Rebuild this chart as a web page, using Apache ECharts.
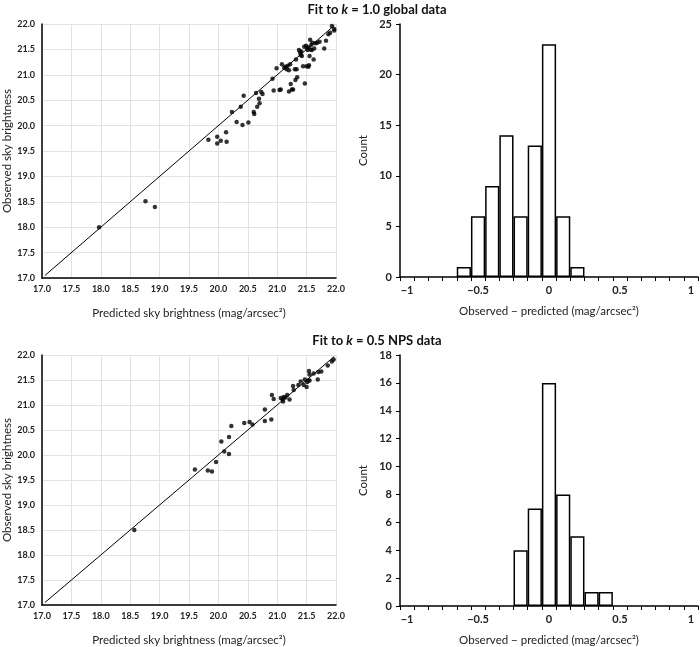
<!DOCTYPE html>
<html><head><meta charset="utf-8">
<script src="https://cdn.jsdelivr.net/npm/echarts@6/dist/echarts.min.js"></script>
<style>html,body{margin:0;padding:0;background:#fff}#c{width:700px;height:647px}</style>
</head><body><div id="c"></div>
<script>
// ---- data ----
const globalPred = [17.97,18.76,18.92,19.83,19.98,19.98,20.04,20.13,20.14,20.23,20.31,20.41,20.38,20.43,20.51,20.60,20.61,20.64,20.66,20.69,20.70,20.73,20.75,20.92,20.94,20.99,21.04,21.06,21.08,21.14,21.16,21.18,21.20,21.22,21.20,21.23,21.25,21.27,21.30,21.32,21.33,21.31,21.34,21.37,21.40,21.41,21.42,21.44,21.47,21.46,21.49,21.51,21.50,21.53,21.54,21.52,21.55,21.56,21.58,21.59,21.62,21.63,21.65,21.68,21.72,21.80,21.83,21.87,21.90,21.93,21.97,21.97,21.60,21.53,21.39,21.12,21.57];
const globalObs  = [18.00,18.51,18.40,19.72,19.78,19.65,19.70,19.87,19.68,20.27,20.07,20.01,20.37,20.59,20.06,20.27,20.23,20.64,20.37,20.53,20.44,20.66,20.62,20.92,20.69,21.13,20.70,20.71,21.21,21.16,21.11,21.18,21.09,21.21,20.67,20.82,20.71,20.71,21.11,21.30,21.11,20.90,20.95,21.49,21.39,21.46,21.37,21.17,20.83,21.55,21.57,21.52,21.17,21.16,21.19,21.49,21.37,21.69,21.59,21.49,21.30,21.52,21.62,21.63,21.65,21.52,21.67,21.80,21.83,21.96,21.90,21.87,21.63,21.54,21.44,21.14,21.50];
const npsPred = [18.57,19.60,19.82,19.89,19.96,20.05,20.10,20.18,20.18,20.22,20.44,20.53,20.58,20.79,20.79,20.90,20.91,20.94,21.06,21.09,21.11,21.10,21.14,21.17,21.21,21.27,21.28,21.36,21.40,21.45,21.47,21.51,21.50,21.53,21.55,21.54,21.55,21.62,21.69,21.70,21.75,21.86,21.93,21.96];
const npsObs  = [18.50,19.71,19.69,19.67,19.86,20.27,20.07,20.02,20.36,20.58,20.64,20.66,20.61,20.91,20.68,20.71,21.20,21.12,21.14,21.11,21.16,21.07,21.15,21.20,21.11,21.38,21.30,21.40,21.47,21.40,21.51,21.46,21.36,21.49,21.49,21.68,21.61,21.63,21.51,21.66,21.67,21.79,21.87,21.91];
const oneToOne = [17.05, 21.97];
const binCenters = ['-1','-0.9','-0.8','-0.7','-0.6','-0.5','-0.4','-0.3','-0.2','-0.1','0','0.1','0.2','0.3','0.4','0.5','0.6','0.7','0.8','0.9','1'];
const globalCounts = [null,null,null,null,1,6,9,14,6,13,23,6,1,null,null,null,null,null,null,null,null];
const npsCounts    = [null,null,null,null,null,null,null,null,4,7,16,8,5,1,1,null,null,null,null,null,null];
const scatterTicks = {min:17, max:22, interval:0.5};
const globalCountAxis = {min:0, max:25, interval:5};
const npsCountAxis = {min:0, max:18, interval:2};
const titles = ['Fit to {k|k} = 1.0 global data', 'Fit to {k|k} = 0.5 NPS data'];

// ---- chart ----
const FONT = 'Lato';
const chart = echarts.init(document.getElementById('c'));
const zip = (a,b) => a.map((v,i)=>[v,b[i]]);
const grids = [
  {left:38, top:24, width:298, height:254},
  {left:400, top:24, width:298, height:253},
  {left:38, top:355, width:298, height:254},
  {left:400, top:355, width:298, height:254}
];
const nameStyle = {fontFamily:FONT, fontSize:11.5, color:'#222'};
function scatterX(gi){ return {type:'value', gridIndex:gi, min:scatterTicks.min, max:scatterTicks.max, interval:scatterTicks.interval,
  name:'Predicted sky brightness (mag/arcsec²)', nameLocation:'middle', nameGap:29, nameTextStyle:nameStyle,
  axisLine:{onZero:false, lineStyle:{color:'#000', width:1.5}}, axisTick:{show:false},
  axisLabel:{fontFamily:FONT, fontSize:9, fontWeight:'bold', color:'#222', margin:7, formatter:v=>v.toFixed(1)},
  splitLine:{show:true, lineStyle:{color:'#e2e2e2', width:1}}};}
function scatterY(gi){ return {type:'value', gridIndex:gi, min:scatterTicks.min, max:scatterTicks.max, interval:scatterTicks.interval,
  name:'Observed sky brightness', nameLocation:'middle', nameGap:29, nameTextStyle:nameStyle,
  axisLine:{show:true, onZero:false, lineStyle:{color:'#000', width:1.5}}, axisTick:{show:false},
  axisLabel:{fontFamily:FONT, fontSize:9, fontWeight:'bold', color:'#222', margin:7, formatter:v=>v.toFixed(1)},
  splitLine:{show:true, lineStyle:{color:'#e2e2e2', width:1}}};}
function histX(gi){ return {type:'category', gridIndex:gi, data:binCenters, boundaryGap:true,
  name:'Observed − predicted (mag/arcsec²)', nameLocation:'middle', nameGap:28, nameTextStyle:nameStyle,
  axisLine:{lineStyle:{color:'#000', width:1.5}},
  axisTick:{show:true, interval:0, length:4, lineStyle:{color:'#000', width:1}},
  axisLabel:{interval:4, fontFamily:FONT, fontSize:11, fontWeight:'bold', color:'#222', margin:8,
    formatter:v=>v.replace('-', '−')}};}
function histY(gi, ax){ return {type:'value', gridIndex:gi, min:ax.min, max:ax.max, interval:ax.interval,
  name:'Count', nameLocation:'middle', nameGap:31, nameTextStyle:nameStyle,
  axisLine:{show:true, lineStyle:{color:'#000', width:1.5}},
  axisTick:{show:true, length:4, lineStyle:{color:'#000', width:1}},
  axisLabel:{fontFamily:FONT, fontSize:11, fontWeight:'bold', color:'#222', margin:8},
  splitLine:{show:false}};}

const titleStyle = {fontFamily:FONT, fontSize:13, fontWeight:'bold', color:'#111', rich:{k:{fontFamily:FONT, fontSize:13, fontWeight:'bold', fontStyle:'italic', color:'#111'}}};
const option = {
  animation:false,
  backgroundColor:'#fff',
  title:[
    {text:titles[0], left:372, top:-2, textAlign:'center', textStyle:titleStyle},
    {text:titles[1], left:372, top:329, textAlign:'center', textStyle:titleStyle}
  ],
  grid:grids,
  xAxis:[scatterX(0), histX(1), scatterX(2), histX(3)],
  yAxis:[scatterY(0), histY(1, globalCountAxis), scatterY(2), histY(3, npsCountAxis)],
  series:[
    {type:'line', xAxisIndex:0, yAxisIndex:0, data:zip(oneToOne, oneToOne), symbol:'none', lineStyle:{color:'#000', width:1}, z:2},
    {type:'scatter', xAxisIndex:0, yAxisIndex:0, data:zip(globalPred, globalObs), symbolSize:4.5, itemStyle:{color:'#000'}, z:3},
    {type:'bar', xAxisIndex:1, yAxisIndex:1, data:globalCounts, barCategoryGap:'0%', itemStyle:{color:'#fff', borderColor:'#000', borderWidth:1.5}},
    {type:'line', xAxisIndex:2, yAxisIndex:2, data:zip(oneToOne, oneToOne), symbol:'none', lineStyle:{color:'#000', width:1}, z:2},
    {type:'scatter', xAxisIndex:2, yAxisIndex:2, data:zip(npsPred, npsObs), symbolSize:4.5, itemStyle:{color:'#000'}, z:3},
    {type:'bar', xAxisIndex:3, yAxisIndex:3, data:npsCounts, barCategoryGap:'0%', itemStyle:{color:'#fff', borderColor:'#000', borderWidth:1.5}}
  ]
};
chart.setOption(option);
</script></body></html>
